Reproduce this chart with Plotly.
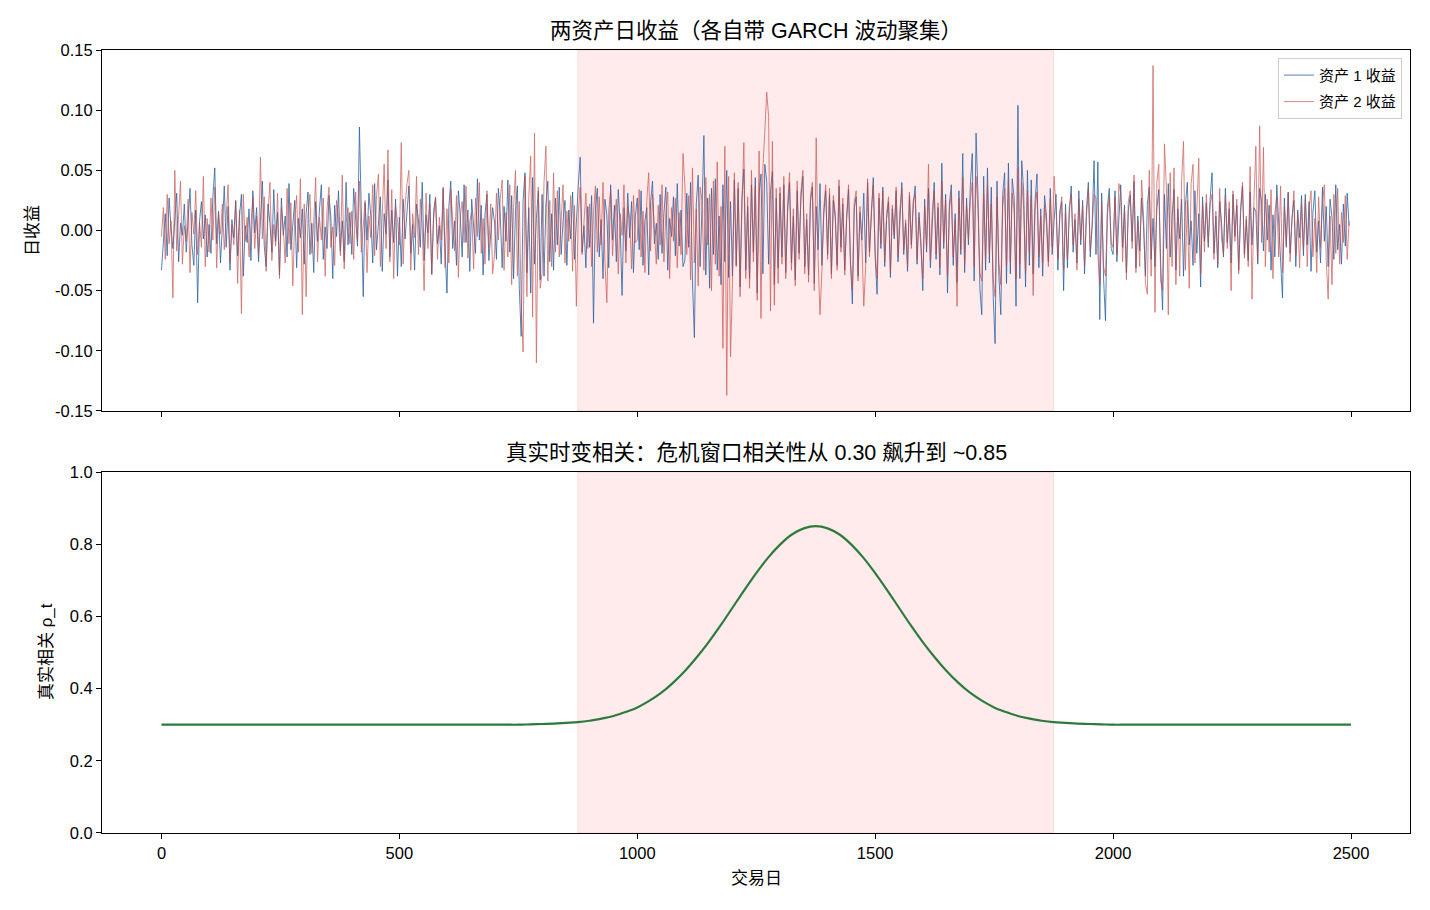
import plotly.graph_objects as go

# ---------------- data ----------------
# daily returns sampled every 4 trading days, in thousandths (x 0.001)
step_days = 4
r1_milli = [
    -33, -8, 14, -21, 27, 3, -15, 9, 31, -26, 6, -4, 22, -18, 11, 35, -12, -29, 17, -60, 8, 24, -7, 13, -22,
    5, -19, 28, 52, -11, 16, -27, 3, 37, -14, 20, -33, 9, -6, 25, -21, 12, 30, -38, 4, -10, 18, -25, 33, -2,
    19, -26, 8, 41, -13, -30, 22, 6, -18, 34, -9, 15, -37, 27, -4, 12, -22, 39, -16, 7, 25, -31, 10, -6, 18,
    -28, 14, 32, -20, 6, -35, 24, -9, 17, 38, -24, 3, -15, 29, 11, -40, 21, -5, 33, -17, 8, -26, 40, -12, 15,
    -20, 35, 9, -13, 86, 4, -55, 23, -8, 31, 12, -27, 39, -16, 6, 28, -34, 14, -3, 42, -22, 17, -10, 26, -38,
    11, -30, 26, -7, 18, 37, -19, 5, -33, 22, 9, -14, 40, -25, 13, -2, 30, -36, 16, 27, -11, 4, -28, 35, -17,
    -52, 20, 41, -15, 8, -29, 33, 12, -22, 38, -10, 17, -34, 26, 5, -19, 43, -8, 21, -37, 14, 30, -25, 2, 19,
    7, -24, 35, 13, -31, 20, -9, 42, -18, 29, -40, 16, 37, -47, -88, 25, 48, -35, 19, -52, 44, -28, 10, 33, -41,
    30, -38, 22, 41, -26, 14, -33, 27, -12, 36, -20, 8, 25, -29, 17, -7, 32, -24, 11, 38, 61, -18, 4, -31, 20,
    -14, 29, -77, 18, 35, -22, 9, -40, 26, 13, -31, 38, -8, 21, -26, 34, 4, -54, 19, -17, 31, -6, 24, -35, 12,
    27, -16, 33, -29, 8, 19, -37, 24, 41, -11, 6, -24, 30, -19, 14, 36, -33, 10, -5, 28, -21, 39, -13, 17, -30,
    -25, 31, -14, 40, -42, -89, 22, 46, -30, 18, 79, -37, 27, -48, 35, -20, 43, -33, 12, -45, 38, -26, 50, -39, 24,
    -38, 42, -29, 35, -47, 26, 51, -33, 20, -40, 38, -18, 44, -52, 30, 47, -36, 55, 41, -28, 33, 49, -45, 27, -31,
    31, -22, 38, -35, 16, 40, -27, 12, -41, 33, -19, 28, 45, -30, 9, -37, 24, 36, -44, 20, -16, 39, -29, 14, 33,
    -20, 30, -36, 25, 11, -29, 37, -14, 22, -33, 9, 34, -24, -61, 19, 28, -38, 15, -8, 31, -27, 40, -18, 13, 44,
    -23, -53, 27, -15, 36, -30, 10, 24, -39, 18, -7, 33, -26, 14, 40, -20, 6, -34, 29, -12, 21, 37, -28, 15, -9,
    -50, 26, -18, 35, -31, 12, 40, -24, 19, -37, 56, -15, 30, -52, 22, 38, -29, 14, -43, 33, -20, 64, -35, 27, -12,
    38, 64, -42, 81, 29, -48, -70, 45, -33, 52, -27, 36, -55, -94, 41, -38, -70, 30, 48, -44, 56, -36, 43, 27, -63,
    104, -40, 58, 33, -47, 50, -29, 42, -36, 24, 47, -31, 18, -38, 29, 12, -26, 35, -20, 8, 30, -33, 16, 24, -50,
    22, -31, 14, 37, -18, 9, -27, 33, -12, 25, -36, 17, 40, -22, 6, 58, -20, 57, -74, 31, -40, -75, 19, 35, -15,
    -20, 33, -26, 8, 38, -14, 21, -35, 16, 29, -9, 41, -31, 12, -17, 27, 4, -38, 22, 36, -24, 10, -30, 18, 34,
    -28, -66, 30, -15, 39, -22, 11, 34, -33, 18, -7, 26, -38, 21, 40, -12, 8, -29, 33, -19, 14, -47, 28, -9, 23,
    -14, 27, 48, -19, 12, -31, 24, 6, -22, 35, -10, 18, -27, 30, -5, 21, -33, 15, 37, -20, 9, -25, 32, -12, 19,
    16, -28, 35, 24, -17, 30, -8, 21, -33, 13, -22, 38, 7, -26, -56, 27, -14, 32, -19, 10, 25, -30, 17, -6, 29,
    -21, 30, -12, 24, -34, 15, 33, -18, 8, -27, 36, -9, 20, -30, 26, 11, -24, 38, -16, 5, -28, 22, -13, 31, 4,
]
r2_milli = [
    -5, 19, -24, 30, -11, 8, -56, 50, -17, 12, 41, -28, 4, -9, 26, -35, 15, -3, 33, -20, 7, -14, 45, -30, 10,
    -18, 27, -8, 36, -31, 14, -3, 22, -16, 9, 38, -27, 5, -12, 24, -44, 17, -69, 30, -9, 11, -22, 3, 28, -15,
    12, -20, 61, -7, 28, -34, 16, 40, -25, 5, -13, 31, -40, 19, 2, -27, 35, -11, 23, -46, 9, 29, -18, 43, -70,
    22, -55, 13, 30, -19, 7, 44, -26, 11, -8, 27, -38, 18, 36, -14, 3, -29, 25, 10, -21, 46, -32, 6, 19, -11,
    16, -24, 32, -9, 41, -18, 7, 25, -35, 12, -6, 38, -21, 29, 47, -30, 13, 55, -15, 67, -26, 34, -40, 20, 8,
    -12, 73, -28, 20, 39, 50, -33, 14, -6, 45, -20, 26, 3, -50, 31, -15, 22, -37, 9, 28, -24, 11, -8, 36, -31,
    18, -27, 34, 6, -17, 29, -39, 12, 24, -10, 37, -23, 8, 15, -32, 27, -5, 40, -19, 10, -28, 33, -14, 22, -36,
    -20, 31, -8, 26, 42, -33, 15, -22, 38, -45, 19, 50, -38, 24, -60, -101, 45, -55, 28, 62, -72, 81, -110, 36, -48,
    -35, 40, 70, -42, 25, -30, 48, -18, 33, -22, 12, 38, -27, 16, -9, 29, -34, 21, -63, 14, 36, -20, 7, 31, -15,
    22, -30, 15, 37, -18, 28, -12, 40, -25, -60, 17, 33, -21, 9, 26, -36, 14, -4, 38, -27, 20, 11, -32, 29, -10,
    -8, 34, -22, 16, -35, 25, 48, -17, 30, 5, -28, 21, -12, 38, -26, 13, 32, -40, 19, -9, 27, -31, 15, -20, 64,
    38, -20, 29, -41, 52, -27, 18, -46, 36, 25, -33, 44, -12, 30, -50, 41, -28, 57, -38, 20, -98, 70, -137, 45, -105,
    -45, 48, -30, 40, -55, 22, 73, -40, 28, -48, 50, -26, 37, -58, 66, -73, 52, 82, 115, 95, -67, 74, -62, 35, -44,
    36, -28, 45, -40, 22, 48, -33, 18, -46, 41, -24, 32, 50, -36, 14, -43, 29, 40, -50, 77, -22, -70, -34, 19, 38,
    -24, 35, -40, 29, 15, -33, 42, -18, 27, -37, 12, 38, -28, -50, 23, 33, -42, 20, -10, -63, -30, 43, -22, 17, 38,
    -18, -40, 31, -11, 33, -26, 14, 28, -35, 21, -4, 36, -22, 18, 35, -16, 9, -30, 32, -15, 25, 30, -24, 11, -13,
    -40, 20, -14, 55, -25, 16, 33, -20, 23, -31, 41, -10, 25, -38, 18, 30, -22, 9, -63, 27, -16, 44, -28, 21, -6,
    25, 40, -30, 45, 18, -35, -42, 30, -24, 38, -19, 22, -40, -55, 28, -27, -45, 20, 35, -30, 42, -26, 31, 17, -40,
    52, -28, 40, 20, -35, 33, -18, 29, -54, 17, 32, -22, 12, -27, 21, 6, -30, 26, -14, 45, 19, -24, 10, 28, -33,
    16, -24, 20, 30, -12, 14, -33, 26, -8, 21, -29, 11, 35, -17, 3, 30, 27, -20, -45, 24, -30, -38, 13, 28, -10,
    -14, 28, -20, 39, 31, -26, 17, -41, 24, 33, -15, 46, -35, 8, -30, 42, 12, -44, -53, 50, -38, 137, -68, 40, 55,
    -42, -50, 72, 36, -70, 48, -30, 52, -45, 28, -38, 41, 74, -33, 25, -48, 39, 55, -27, 20, 60, -36, 22, -18, 30,
    -10, 22, 30, -24, 16, -28, 35, -7, -20, 29, -15, 24, -50, 33, -9, 26, -36, 19, 40, -23, 12, -30, 53, -57, 24,
    70, -25, 87, -10, 69, -30, 26, -18, 34, -40, 15, 28, -22, 37, -35, 20, -12, 31, -26, 9, 33, -21, 14, -31, 22,
    -16, 26, -30, 19, 33, -22, 10, -35, 28, -14, 23, 38, -25, -57, 12, -45, 30, -19, 35, -28, 15, -10, 29, -24, 8,
]

# true time-varying correlation, read every 25 days (day 0 .. 2500)
rho_days = list(range(0, 2501, 25))
rho_vals = (
    [0.300] * 31
    + [0.301, 0.302, 0.303, 0.305, 0.307, 0.311, 0.317, 0.324, 0.335, 0.348,
       0.366, 0.388, 0.416, 0.449, 0.487, 0.529, 0.575, 0.624, 0.673, 0.720,
       0.763, 0.799, 0.827, 0.844, 0.850,
       0.844, 0.827, 0.799, 0.763, 0.720, 0.673, 0.624, 0.575, 0.529, 0.487,
       0.449, 0.416, 0.388, 0.366, 0.348, 0.335, 0.324, 0.317, 0.311, 0.307,
       0.305, 0.303, 0.302, 0.301]
    + [0.300] * 21
)

crisis_start, crisis_end = 875, 1875
x_ticks = [0, 500, 1000, 1500, 2000, 2500]
y1_ticks = [-0.15, -0.10, -0.05, 0.00, 0.05, 0.10, 0.15]
y1_labels = ["-0.15", "-0.10", "-0.05", "0.00", "0.05", "0.10", "0.15"]
y2_ticks = [0.0, 0.2, 0.4, 0.6, 0.8, 1.0]
y2_labels = ["0.0", "0.2", "0.4", "0.6", "0.8", "1.0"]

r1 = [v / 1000 for v in r1_milli]
r2 = [v / 1000 for v in r2_milli]
d1 = [i * step_days for i in range(len(r1))]
d2 = [i * step_days for i in range(len(r2))]

FONT = "Liberation Sans, Arial, Noto Sans CJK SC, sans-serif"
TICK = 16.5

fig = go.Figure()
fig.add_trace(go.Scatter(x=d1, y=r1, mode="lines", name="资产 1 收益", legendgroup="a",
                         line=dict(color="#2c62a3", width=0.8),
                         xaxis="x", yaxis="y"))
fig.add_trace(go.Scatter(x=d2, y=r2, mode="lines", name="资产 2 收益", legendgroup="b",
                         line=dict(color="#c44540", width=0.8), opacity=0.8,
                         xaxis="x", yaxis="y"))
fig.add_trace(go.Scatter(x=rho_days, y=rho_vals, mode="lines", showlegend=False,
                         line=dict(color="#2e7a3c", width=2.2, shape="spline"),
                         xaxis="x2", yaxis="y2"))

for xr, yr in (("x", "y"), ("x2", "y2")):
    fig.add_shape(type="rect", xref=xr, yref=yr + " domain",
                  x0=crisis_start, x1=crisis_end, y0=0, y1=1,
                  fillcolor="rgba(255,0,0,0.08)",
                  line=dict(color="rgba(255,0,0,0.10)", width=1),
                  layer="below")

axis_common = dict(range=[-125, 2624], showline=True, linecolor="black", linewidth=1,
                   mirror=True, ticks="outside", ticklen=5, tickcolor="black",
                   showgrid=False, zeroline=False, tickvals=x_ticks,
                   tickfont=dict(size=TICK, color="black"))

fig.update_layout(
    width=1430, height=910,
    margin=dict(l=102, r=20, t=50, b=77),
    paper_bgcolor="white", plot_bgcolor="white",
    font=dict(family=FONT, color="black"),
    xaxis=dict(**axis_common, domain=[0, 1], anchor="y", showticklabels=False),
    yaxis=dict(domain=[0.539, 1], anchor="x", range=[-0.15, 0.15],
               tickvals=y1_ticks, ticktext=y1_labels,
               showline=True, linecolor="black", linewidth=1, mirror=True,
               ticks="outside", ticklen=5, tickcolor="black",
               showgrid=False, zeroline=False, tickfont=dict(size=TICK, color="black")),
    xaxis2=dict(**axis_common, domain=[0, 1], anchor="y2", matches="x"),
    yaxis2=dict(domain=[0, 0.461], anchor="x2", range=[0, 1],
                tickvals=y2_ticks, ticktext=y2_labels,
                showline=True, linecolor="black", linewidth=1, mirror=True,
                ticks="outside", ticklen=5, tickcolor="black",
                showgrid=False, zeroline=False, tickfont=dict(size=TICK, color="black")),
    legend=dict(x=0.9939, y=0.99, xanchor="right", yanchor="top",
                bgcolor="rgba(255,255,255,0.85)", bordercolor="#cccccc", borderwidth=1,
                font=dict(size=15, color="black"), tracegroupgap=4),
    showlegend=True,
)

annots = [
    dict(text="两资产日收益（各自带 GARCH 波动聚集）", x=0.5, y=1.0243, font_size=21.5),
    dict(text="真实时变相关：危机窗口相关性从 0.30 飙升到 ~0.85", x=0.5, y=0.4853, font_size=21.5),
    dict(text="日收益", x=-0.0535, y=0.7688, font_size=17, textangle=-90),
    dict(text="真实相关 ρ_t", x=-0.042, y=0.2312, font_size=17, textangle=-90),
    dict(text="交易日", x=0.5, y=-0.0575, font_size=17),
]
for a in annots:
    fig.add_annotation(text=a["text"], x=a["x"], y=a["y"], xref="paper", yref="paper",
                       xanchor="center", yanchor="middle", showarrow=False,
                       textangle=a.get("textangle", 0),
                       font=dict(size=a["font_size"], family=FONT, color="black"))

fig.write_html("out.html")
